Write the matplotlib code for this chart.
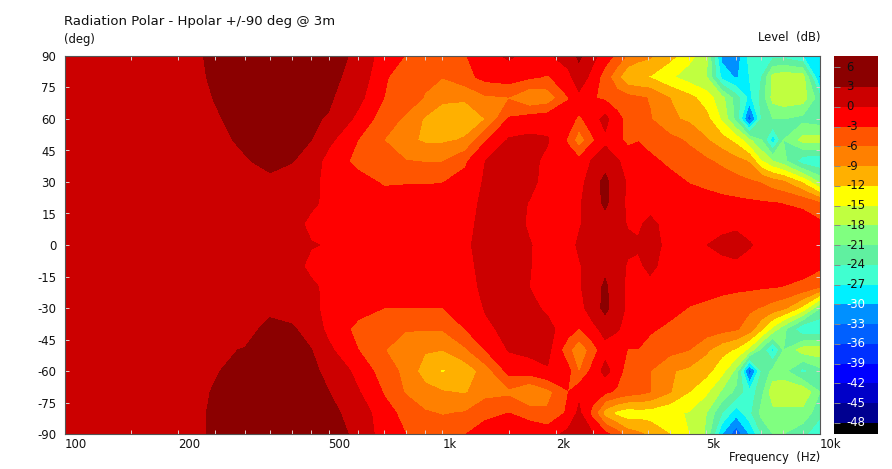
import matplotlib
matplotlib.use('Agg')
import matplotlib.pyplot as plt
import numpy as np
from matplotlib.colors import ListedColormap

W, H = 892, 469

freqs = [100, 200, 250, 300, 350, 400, 450, 500, 600, 700, 800, 900, 1000, 1150, 1300, 1500, 1700, 1900, 2150,
         2300, 2500, 2700, 2900, 3100, 3300, 3550, 4000, 4500, 5000, 5500, 6000, 6500, 7000, 7500, 8000, 9000, 10000]
angles = [-90, -80, -70, -60, -50, -40, -30, -20, -10, 0, 10, 20, 30, 40, 50, 60, 70, 80, 90]

# level in dB, one list per angle
p90 = [2.0, 2.5, 3.25, 4.1, 4.3, 4.2, 3.9, 3.7, 2.6, -1.7, -3.1, -4.2, -4.8, -3.2, -1.0, 0.4, -1.0, -0.5, 1.5,
       3.5, 0.8, -1.5, -3.8, -6.5, -7.8, -8.6, -11, -14, -17, -31, -32, -26, -25, -25, -25, -27, -29]
p80 = [1.9, 2.4, 3.2, 4.0, 4.2, 4.2, 3.9, 3.6, 2.1, -2.8, -3.8, -5.4, -5.9, -4.0, -2.0, -1.5, -2.5, -3.3, -1.0,
       1.8, -1.0, -4.5, -8, -11.5, -12, -12.2, -14.5, -16.5, -17.8, -28, -30.5, -27, -24, -17, -16, -16.5, -31]
p70 = [1.8, 2.3, 3.05, 3.8, 4.1, 4.1, 3.7, 3.4, 0.8, -3.0, -4.5, -6.2, -8.3, -8.7, -6.6, -6.2, -8.9, -8, -3.2,
       -0.8, -2.8, -3.5, -4.5, -5, -5.5, -6.2, -9, -11, -13.5, -17, -22.5, -28, -23, -17, -16, -16.5, -23]
p60 = [1.7, 2.4, 2.85, 3.5, 3.9, 3.8, 3.3, 2.8, -0.8, -4.6, -6.5, -9.4, -11, -10.5, -9, -2.7, -1.5, -1, -1.5,
       -3.7, -1.2, 0.9, -2, -4, -4.5, -5.8, -8.5, -9.5, -11, -15.5, -22, -35, -24, -21, -21, -22, -23]
p50 = [1.6, 2.2, 2.6, 3.3, 3.7, 3.6, 3.0, 0.7, -3.1, -6.0, -8.2, -9.5, -9.5, -8.7, -3.3, 0.3, 0.6, 0.2, -3.4,
       -8, -3.5, -0.6, -2.1, -3.8, -3.1, -3.8, -5, -6.5, -8.7, -10.8, -13, -17.5, -21, -29, -21, -17, -16.5]
p40 = [1.5, 2.0, 2.2, 2.85, 3.5, 3.15, 1.5, -1.0, -4.0, -5.4, -5.9, -6.2, -6.2, -3.5, 0.0, 0.7, 0.7, -0.6, -1.5,
       -2, 0.3, 1.5, 0.3, -1, -2, -2.5, -3.5, -4.5, -5.5, -6.7, -8, -9.3, -15, -18, -20, -26, -27]
p30 = [1.5, 1.8, 1.9, 2.1, 2.6, 1.7, 0.6, -0.7, -1.8, -3.4, -3.2, -3.2, -3.1, -2, 0.4, 1.0, 0.6, -0.8, -1.3,
       -1.0, 1.5, 4.0, 0.8, -0.2, -1.0, -1.6, -2.2, -3.1, -3.6, -4.2, -4.9, -5.6, -6.2, -7.5, -8.5, -12.5, -18.5]
p20 = [1.4, 1.7, 1.7, 1.7, 1.7, 1.3, 0.3, -0.4, -1.0, -1.5, -1.7, -1.7, -1.5, -0.8, 0.5, 0.9, -0.1, -1.0, -1.3,
       -0.3, 1.4, 3.7, 0.7, -0.3, -0.8, -0.8, -1.5, -1.8, -2, -2.2, -2.3, -2.5, -2.7, -2.9, -3.1, -3.6, -5.8]
p10 = [1.4, 1.6, 1.6, 1.5, 1.3, 0.6, -0.4, -0.6, -0.9, -1.1, -1.2, -1.2, -1.1, -0.5, 0.6, 0.7, -0.2, -0.9, -1.2,
       -0.2, 1.0, 1.5, 1.0, -0.2, -0.3, 0.5, -0.8, -1, -1.0, -0.8, -0.7, -0.9, -1.1, -1.2, -1.4, -1.7, -2.3]
z00 = [1.4, 1.5, 1.5, 1.4, 1.0, 0.4, 0.1, -0.1, -0.4, -0.6, -0.7, -0.7, -0.6, -0.3, 0.7, 0.8, 0.1, -0.6, -0.8,
       0.3, 1.3, 1.6, 1.2, 0.6, 0.2, 0.5, -0.4, -0.3, -0.05, 0.7, 1.4, 0.2, -0.5, -0.3, -0.4, -0.6, -0.9]
m10 = [1.4, 1.6, 1.6, 1.5, 1.3, 0.6, -0.4, -0.6, -0.9, -1.1, -1.2, -1.2, -1.1, -0.5, 0.6, 0.8, 0.1, -0.9, -1.2,
       -0.2, 1.0, 2.2, 1.0, -0.3, -0.3, 0.4, -0.8, -1, -1.0, -0.8, -0.7, -0.9, -1.1, -1.2, -1.4, -1.7, -2.3]
m20 = [1.4, 1.7, 1.7, 1.7, 1.7, 1.3, 0.3, -0.4, -1.0, -1.5, -1.7, -1.7, -1.5, -0.8, 0.5, 1.0, 0.0, -1.0, -1.3,
       -0.3, 1.4, 3.6, 0.7, -0.3, -0.8, -0.5, -1.5, -1.8, -2.1, -2.3, -2.4, -2.5, -2.7, -2.9, -3.1, -3.8, -6]
m30 = [1.5, 1.8, 1.9, 2.1, 2.4, 1.7, 0.6, -0.7, -1.8, -3.0, -3.05, -3.05, -3.05, -1.7, 0.2, 1.0, 0.7, -0.5, -1.2,
       -1.0, 1.4, 3.9, 0.8, -0.3, -1.0, -1.6, -2.2, -3.1, -3.5, -4.1, -4.8, -5.5, -6.2, -7.3, -8.3, -13, -21]
m40 = [1.5, 2.0, 2.2, 2.2, 3.7, 3.4, 1.6, -0.7, -4.0, -5.8, -5.7, -5.8, -5.8, -3.0, -0.5, 0.7, 1.0, 0.8, -1.5,
       -3.2, -0.8, 1.0, 0.3, -1.0, -1.5, -2.7, -3.5, -3.8, -4.4, -5, -5.7, -7.5, -11.5, -16, -20, -27, -27]
m50 = [1.6, 2.2, 2.7, 3.1, 3.7, 3.6, 3.1, 0.6, -3.0, -5.8, -8.3, -8.7, -9, -6.5, -3, 0.2, 0.8, 0.9, -5,
       -8.5, -4.5, -1, -1.8, -3.1, -3.1, -3.8, -5, -6, -8.5, -11, -12.5, -16, -22, -28, -21, -16.5, -16]
m60 = [1.7, 2.4, 2.9, 3.5, 3.9, 3.8, 3.4, 2.5, -1.0, -4.5, -6.8, -10.5, -12.3, -11, -7.5, -2, -1.5, -0.3, -2,
       -6.3, -2, 1.0, -1.5, -4.5, -5.2, -6, -8.7, -9.7, -11, -14, -19, -35, -24, -20, -20, -25, -22]
m70 = [1.8, 2.4, 3.1, 3.9, 4.1, 4.1, 3.8, 3.05, 0.2, -3.2, -6.3, -7.8, -8.8, -9.3, -7, -6.7, -9.2, -7, -3.1,
       -0.8, -1.5, -2.5, -3.5, -4.5, -5, -6, -8.8, -12, -14.5, -18.5, -22, -26, -22, -16, -15.5, -15.5, -21]
m80 = [1.9, 2.4, 3.2, 4.0, 4.2, 4.2, 3.9, 3.6, 2.0, -2.0, -3.8, -5.7, -6.2, -5.8, -4, -3.0, -4.5, -5.5, -2.5,
       0.7, -4, -10.5, -13, -14, -13.5, -13.5, -14.5, -15.2, -18, -24, -29, -25, -20, -19, -19, -19, -23]
m90 = [2.0, 2.4, 3.2, 4.0, 4.3, 4.2, 3.9, 3.7, 2.6, -1.7, -3.0, -3.8, -4.4, -3.1, -1.2, -0.3, -0.5, -1.2, 0.8,
       2.2, 0.3, -2, -4.5, -7.5, -8.4, -9.8, -12, -15, -18.5, -30, -35, -30, -24, -21, -21, -23, -27]

levels = [-48, -45, -42, -39, -36, -33, -30, -27, -24, -21, -18, -15, -12, -9, -6, -3, 0, 3]
colors = ['#000000', '#000090', '#0000c8', '#0000ff', '#0030ff', '#0060ff', '#0090ff', '#00f0ff', '#40ffd0',
          '#60f0a0', '#80ff80', '#c0ff40', '#ffff00', '#ffb000', '#ff8000', '#ff5500', '#ff0000', '#cc0000',
          '#8b0000']

x_ticks = [100, 150, 200, 250, 300, 350, 400, 450, 500, 600, 700, 800, 900, 1000, 1500, 2000, 2500, 3000, 3500,
           4000, 4500, 5000, 6000, 7000, 8000, 9000, 10000]
x_labels = {100: '100', 200: '200', 500: '500', 1000: '1k', 2000: '2k', 5000: '5k', 10000: '10k'}
y_ticks = [-90, -75, -60, -45, -30, -15, 0, 15, 30, 45, 60, 75, 90]
bar_ticks = [6, 3, 0, -3, -6, -9, -12, -15, -18, -21, -24, -27, -30, -33, -36, -39, -42, -45, -48]

plt.rcParams['font.family'] = ['DejaVu Sans']
FS = 8.4
INK = '#111111'

Z = np.array([m90, m80, m70, m60, m50, m40, m30, m20, m10, z00, p10, p20, p30, p40, p50, p60, p70, p80, p90])
bar_edges = [-49.67] + levels + [7.7]

fig = plt.figure(figsize=(W / 100, H / 100), dpi=100, facecolor='white')
ax = fig.add_axes([64.5 / W, 1 - 434 / H, (820 - 64.5) / W, (434 - 56) / H])
ax.contourf(freqs, angles, Z, levels=bar_edges[:1] + levels + [20], colors=colors)
ax.set_xscale('log')
ax.set_xlim(100, 10000)
ax.set_ylim(-90, 90)
ax.minorticks_off()
ax.set_xticks(x_ticks)
ax.set_xticklabels([x_labels.get(t, '') for t in x_ticks], fontsize=FS, ha='left', color=INK)
ax.set_yticks(y_ticks)
ax.set_yticklabels(y_ticks, fontsize=FS, color=INK)
ax.tick_params(axis='x', which='both', direction='in', length=3, width=0.7, color='#e0d0d0', top=True, pad=3)
ax.tick_params(axis='y', which='both', direction='in', length=3, width=0.7, color='#e0d0d0', right=True, pad=6)
for s in ax.spines.values():
    s.set_color('#555555')
    s.set_linewidth(0.8)

cax = fig.add_axes([834 / W, 1 - 434 / H, 44 / W, (434 - 56) / H])
cax.pcolormesh([0, 1], bar_edges, np.arange(len(colors)).reshape(-1, 1), cmap=ListedColormap(colors))
cax.set_xlim(0, 1)
cax.set_ylim(bar_edges[0], bar_edges[-1])
cax.set_xticks([])
cax.set_yticks(bar_ticks)
cax.set_yticklabels([])
cax.tick_params(axis='y', direction='in', length=4, width=0.7, color='#888888')
for t in bar_ticks:
    cax.text(0.27, t, str(t), fontsize=FS, va='center', ha='left', color='white' if t <= -30 else INK)
for s in cax.spines.values():
    s.set_visible(False)

fig.text(64 / W, 1 - 21 / H, 'Radiation Polar - Hpolar +/-90 deg @ 3m', fontsize=9.5, va='center', ha='left', color=INK)
fig.text(64 / W, 1 - 39 / H, '(deg)', fontsize=FS, va='center', ha='left', color=INK)
fig.text(820 / W, 1 - 38 / H, 'Level  (dB)', fontsize=FS, va='center', ha='right', color=INK)
fig.text(820 / W, 1 - 457 / H, 'Frequency  (Hz)', fontsize=FS, va='center', ha='right', color=INK)

fig.savefig('out.png', dpi=100, facecolor='white')
